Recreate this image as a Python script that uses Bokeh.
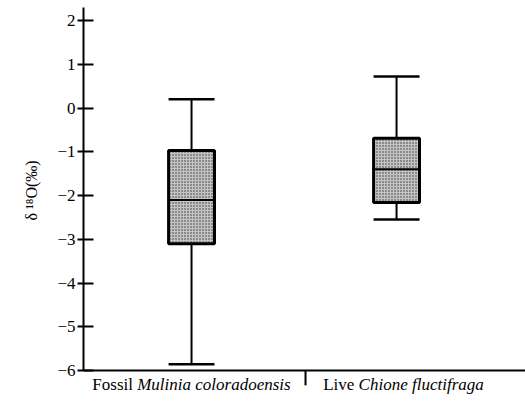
from bokeh.plotting import figure
from bokeh.models import FixedTicker, Label, Range1d, Span, Title
from bokeh.embed import file_html
from bokeh.resources import INLINE

# data
groups = ["Fossil", "Live"]
species = ["Mulinia coloradoensis", "Chione fluctifraga"]
whisker_hi = [0.20, 0.72]
q3 = [-0.97, -0.69]
median = [-2.10, -1.40]
q1 = [-3.10, -2.16]
whisker_lo = [-5.86, -2.55]
y_ticks = [-6, -5, -4, -3, -2, -1, 0, 1, 2]
y_min, y_max = -6, 2.30
y_title = "δ ¹⁸O(‰)"

xpos = [i + 1 for i in range(len(groups))]
bw = 0.224
FONT = "Liberation Serif"

p = figure(width=525, height=401, output_backend="svg", toolbar_location=None,
           x_range=Range1d(0.473, 2.629), y_range=Range1d(-6.709, y_max),
           x_axis_location=None,
           min_border_left=83, min_border_right=0, min_border_top=7, min_border_bottom=0)
p.outline_line_color = None
p.xgrid.visible = False
p.ygrid.visible = False
p.background_fill_color = "white"

# whiskers
p.segment(x0=xpos, x1=xpos, y0=q3, y1=whisker_hi, line_color="black", line_width=2)
p.segment(x0=xpos, x1=xpos, y0=q1, y1=whisker_lo, line_color="black", line_width=2)
# caps
p.segment(x0=[x - bw / 2 for x in xpos], x1=[x + bw / 2 for x in xpos], y0=whisker_hi, y1=whisker_hi,
          line_color="black", line_width=2.5)
p.segment(x0=[x - bw / 2 for x in xpos], x1=[x + bw / 2 for x in xpos], y0=whisker_lo, y1=whisker_lo,
          line_color="black", line_width=2.5)
# boxes
p.quad(left=[x - bw / 2 for x in xpos], right=[x + bw / 2 for x in xpos], top=q3, bottom=q1,
       fill_color="#c4c4c4", hatch_pattern="dot", hatch_color="#333333", hatch_scale=3, hatch_weight=1,
       line_color="black", line_width=3)
# medians
p.segment(x0=[x - bw / 2 for x in xpos], x1=[x + bw / 2 for x in xpos], y0=median, y1=median,
          line_color="black", line_width=2)

# y axis
ya = p.yaxis[0]
ya.bounds = (y_min, y_max)
ya.ticker = FixedTicker(ticks=y_ticks)
ya.minor_tick_line_color = None
ya.major_tick_in = 10
ya.major_tick_out = 6
ya.major_tick_line_width = 2
ya.axis_line_width = 2
ya.major_label_text_font = FONT
ya.major_label_text_font_size = "17px"
ya.major_label_text_color = "black"
ya.major_label_standoff = 2

p.add_layout(Title(text=y_title, align="left", offset=181, vertical_align="top", text_font=FONT,
                   text_font_style="normal", text_font_size="16px", text_color="black",
                   standoff=25), "left")

# category axis line and separator tick
p.add_layout(Span(location=y_min, dimension="width", line_color="black", line_width=2))
sep = (xpos[0] + xpos[1]) / 2 + 0.056
p.segment(x0=[sep], x1=[sep], y0=[y_min], y1=[y_min - 0.34], line_color="black", line_width=2)

label_y = y_min - 0.32
splits = [0.735, 1.815]
for g, s, sx in zip(groups, species, splits):
    p.add_layout(Label(x=sx, y=label_y, text=g + " ", text_align="right",
                       text_baseline="middle", text_font=FONT, text_font_size="17px", text_color="black"))
    p.add_layout(Label(x=sx, y=label_y, text=s, text_align="left",
                       text_baseline="middle", text_font=FONT, text_font_size="17px",
                       text_font_style="italic", text_color="black"))

open("out.html", "w").write(file_html(p, INLINE))
